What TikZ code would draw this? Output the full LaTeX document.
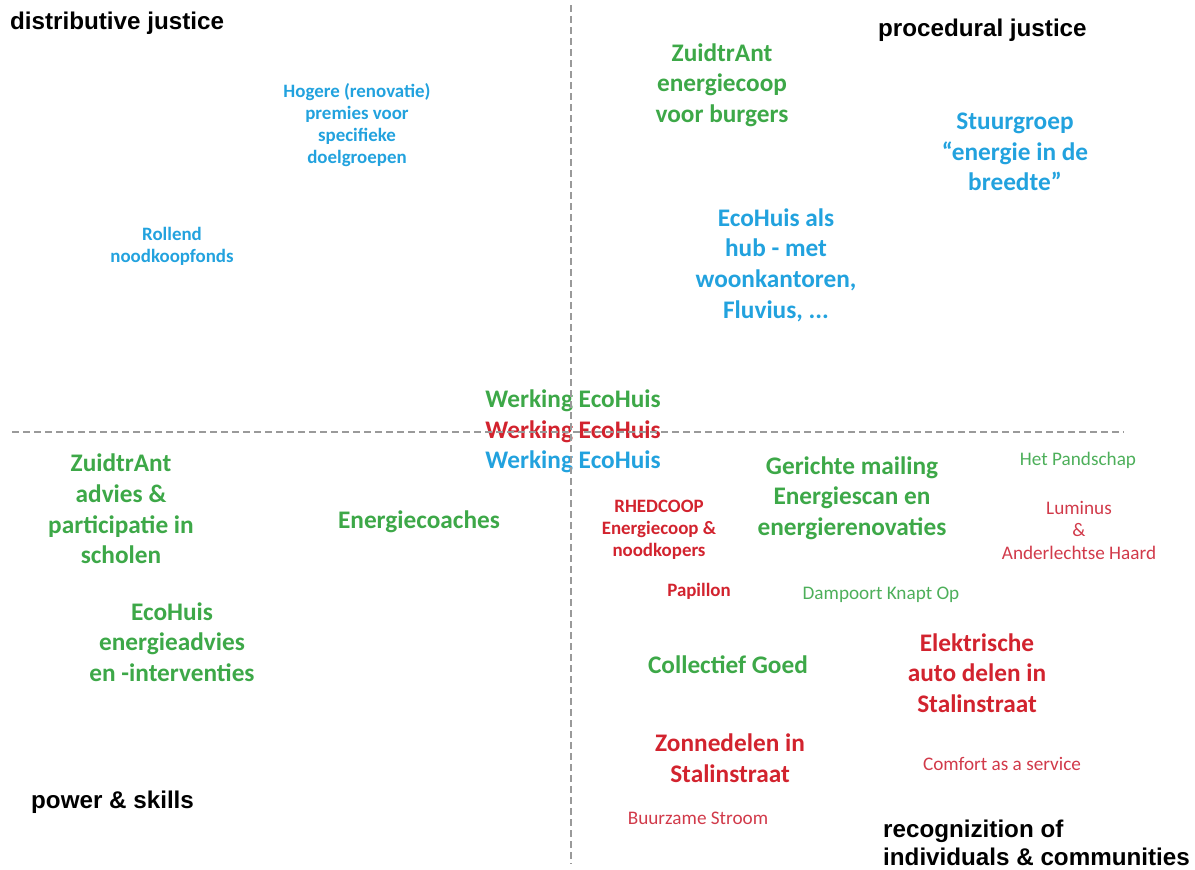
\documentclass[tikz,border=0pt]{standalone}
\usepackage{fontspec}
\setmainfont{Carlito}
\newfontfamily\headfont{Liberation Sans}
\definecolor{tgreen}{HTML}{3DA848}
\definecolor{tblue}{HTML}{22A2DE}
\definecolor{tred}{HTML}{D2232E}
\definecolor{lgreen}{HTML}{4DAF5A}
\definecolor{lred}{HTML}{D13A4A}
\definecolor{axisgray}{HTML}{9A9A9A}
\tikzset{
  item/.style={inner sep=0pt, align=center},
  big/.style={item, font=\bfseries\fontsize{25.3}{30.7}\selectfont},
  mid/.style={item, font=\bfseries\fontsize{18.9}{22.2}\selectfont},
  thin/.style={item, font=\fontsize{19.2}{22.5}\selectfont},
  corner/.style={inner sep=0pt, align=left, anchor=west, font=\headfont\bfseries\fontsize{24.2}{28}\selectfont},
  axis/.style={draw=axisgray, line width=2.2pt, dash pattern=on 7pt off 4pt}
}
\begin{document}
\begin{tikzpicture}[x=1pt,y=-1pt]
\useasboundingbox (0,0) rectangle (1195,870);

% quadrant labels
\node[corner] (dist) at (10,23) {distributive justice};
\node[corner] (proc) at (878,30) {procedural justice};
\node[corner] (pow) at (31,802) {power \& skills};
\node[corner] (rec) at (883,843) {recognizition of\\individuals \& communities};

% top-left quadrant
\node[mid, text=tblue] (hogere) at (357,125) {Hogere (renovatie)\\premies voor\\specifieke\\doelgroepen};
\node[mid, text=tblue] (rollend) at (172,246) {Rollend\\noodkoopfonds};

% top-right quadrant
\node[big, text=tgreen] (zcoop) at (722,85) {ZuidtrAnt\\energiecoop\\voor burgers};
\node[big, text=tblue] (stuur) at (1015,152) {Stuurgroep\\``energie in de\\breedte''};
\node[big, text=tblue] (hub) at (776,265) {EcoHuis als\\hub - met\\woonkantoren,\\Fluvius, ...};

% bottom-left quadrant
\node[big, text=tgreen] (zadv) at (121,509) {ZuidtrAnt\\advies \&\\participatie in\\scholen};
\node[big, text=tgreen] (ehadv) at (172,642) {EcoHuis\\energieadvies\\en -interventies};
\node[big, text=tgreen] (coach) at (419,522) {Energiecoaches};

% bottom-right quadrant
\node[big, text=tgreen] (mail) at (852,498) {Gerichte mailing\\Energiescan en\\energierenovaties};
\node[thin, text=lgreen] (pand) at (1078,460) {Het Pandschap};
\node[thin, text=lred] (lum) at (1079,530) {Luminus\\\&\\Anderlechtse Haard};
\node[mid, text=tred] (rhed) at (659,530) {RHEDCOOP\\Energiecoop \&\\noodkopers};
\node[mid, text=tred] (pap) at (699,591) {Papillon};
\node[thin, text=lgreen] (damp) at (881,595) {Dampoort Knapt Op};
\node[big, text=tgreen] (coll) at (728,665) {Collectief Goed};
\node[big, text=tred] (auto) at (977,673) {Elektrische\\auto delen in\\Stalinstraat};
\node[big, text=tred] (zon) at (730,758) {Zonnedelen in\\Stalinstraat};
\node[thin, text=lred] (comf) at (1002,764) {Comfort as a service};
\node[thin, text=lred] (buur) at (698,818) {Buurzame Stroom};

% centre: the EcoHuis works in three dimensions
\node[big, text=tgreen] (wg) at (573,401) {Werking EcoHuis};
\node[big, text=tred] (wr) at (573,432) {Werking EcoHuis};
\node[big, text=tblue] (wb) at (573,462) {Werking EcoHuis};

% quadrant axes
\coordinate (vtop) at (571,5);
\coordinate (vbot) at (571,864);
\coordinate (hleft) at (12,432);
\coordinate (hright) at (1124,432);
\draw[axis] (vtop) -- (vbot);
\draw[axis] (hleft) -- (hright);
\end{tikzpicture}
\end{document}
